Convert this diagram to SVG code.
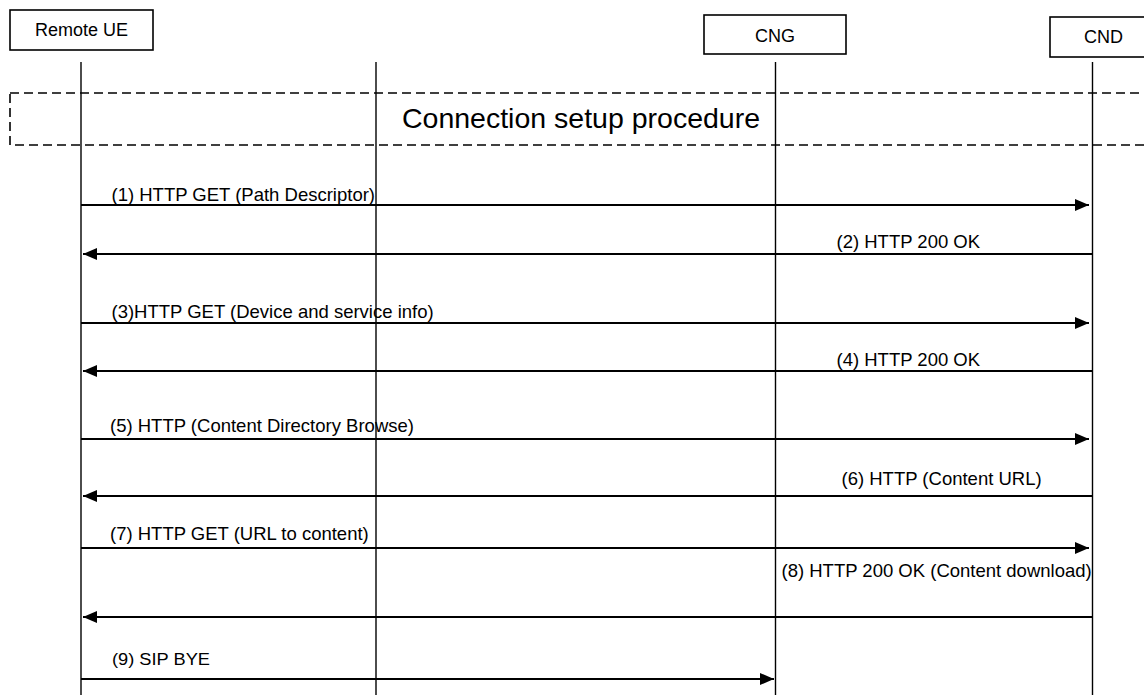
<svg xmlns="http://www.w3.org/2000/svg" width="1144" height="695" viewBox="0 0 1144 695">
<style>
text{font-family:"Liberation Sans",Arial,sans-serif;fill:#000}
.box{fill:#fff;stroke:#000;stroke-width:1.6}
.life{stroke:#000;stroke-width:1.4;fill:none}
.msg{stroke:#000;stroke-width:2;fill:none}
.lbl{font-size:18.5px}
.node{font-size:18px;text-anchor:middle}
</style>
<defs>
<marker id="ah" viewBox="0 0 14 12" refX="14" refY="6" markerWidth="14" markerHeight="12" markerUnits="userSpaceOnUse" orient="auto">
<path d="M0,0 L14,6 L0,12 Z" fill="#000"/>
</marker>
</defs>
<rect width="1144" height="695" fill="#fff"/>
<g id="lifelines">
<line class="life" x1="81" y1="62" x2="81" y2="695"/>
<line class="life" x1="376" y1="62" x2="376" y2="695"/>
<line class="life" x1="775.5" y1="62" x2="775.5" y2="695"/>
<line class="life" x1="1092.5" y1="62" x2="1092.5" y2="695"/>
</g>
<g id="node-remote-ue">
<rect class="box" x="10" y="10" width="143" height="40"/>
<text class="node" x="81.5" y="36">Remote UE</text>
</g>
<g id="node-cng">
<rect class="box" x="704" y="15" width="142" height="39"/>
<text class="node" x="775" y="42">CNG</text>
</g>
<g id="node-cnd">
<rect class="box" x="1050" y="17" width="107" height="40"/>
<text class="node" x="1103.5" y="43">CND</text>
</g>
<g id="connection-setup">
<rect x="10" y="93" width="1150" height="52" fill="none" stroke="#000" stroke-width="1.6" stroke-dasharray="9,5"/>
<text x="581" y="128" font-size="28.5" text-anchor="middle">Connection setup procedure</text>
</g>
<g id="connectors">
<line class="msg" x1="81" y1="205" x2="1089" y2="205" marker-end="url(#ah)"/>
<line class="msg" x1="1092" y1="254" x2="83" y2="254" marker-end="url(#ah)"/>
<line class="msg" x1="81" y1="323" x2="1089" y2="323" marker-end="url(#ah)"/>
<line class="msg" x1="1092" y1="371" x2="83" y2="371" marker-end="url(#ah)"/>
<line class="msg" x1="81" y1="439" x2="1089" y2="439" marker-end="url(#ah)"/>
<line class="msg" x1="1092" y1="496" x2="83" y2="496" marker-end="url(#ah)"/>
<line class="msg" x1="81" y1="548" x2="1089" y2="548" marker-end="url(#ah)"/>
<line class="msg" x1="1092" y1="617" x2="83" y2="617" marker-end="url(#ah)"/>
<line class="msg" x1="81" y1="679" x2="774" y2="679" marker-end="url(#ah)"/>
</g>
<g id="labels">
<text class="lbl" x="111.5" y="201">(1) HTTP GET (Path Descriptor)</text>
<text class="lbl" x="836.5" y="248">(2) HTTP 200 OK</text>
<text class="lbl" x="111.5" y="318">(3)HTTP GET (Device and service info)</text>
<text class="lbl" x="836.5" y="366">(4) HTTP 200 OK</text>
<text class="lbl" x="110" y="432">(5) HTTP (Content Directory Browse)</text>
<text class="lbl" x="841.5" y="485">(6) HTTP (Content URL)</text>
<text class="lbl" x="110" y="540">(7) HTTP GET (URL to content)</text>
<text class="lbl" x="781.5" y="577">(8) HTTP 200 OK (Content download)</text>
<text x="112" y="665" font-size="16" textLength="98" lengthAdjust="spacingAndGlyphs">(9) SIP BYE</text>
</g>
</svg>
